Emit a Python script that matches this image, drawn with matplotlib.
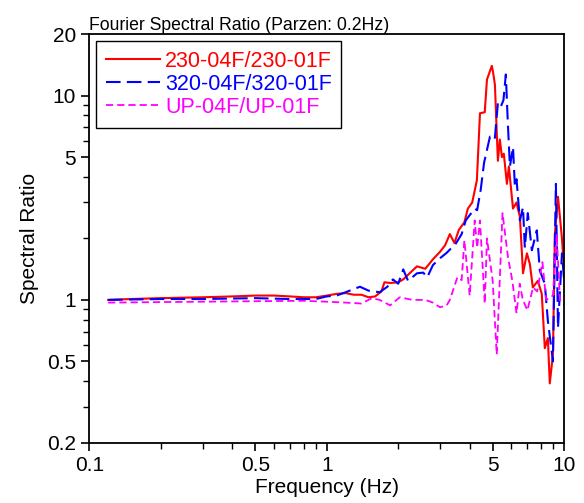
import matplotlib
matplotlib.use("Agg")
import matplotlib.pyplot as plt
from matplotlib.ticker import FixedLocator, FixedFormatter, LogLocator, NullFormatter

plt.rcParams['font.family'] = ['Liberation Sans', 'DejaVu Sans']

# spectral ratios
f_230 = [0.12, 0.15, 0.2, 0.3, 0.4, 0.5, 0.6, 0.7, 0.8, 0.9, 1.0, 1.1, 1.2, 1.3, 1.4, 1.5,
         1.6, 1.7, 1.75, 1.85, 2.0, 2.1, 2.25, 2.4, 2.6, 2.8, 3.0, 3.15, 3.3, 3.45, 3.6,
         3.8, 3.93, 4.1, 4.29, 4.42, 4.63, 4.73, 4.96, 5.02, 5.11, 5.21, 5.26, 5.36, 5.47,
         5.57, 5.74, 5.85, 6.09, 6.30, 6.51, 6.64, 6.71, 6.97, 7.17, 7.38, 7.75, 8.05, 8.29,
         8.54, 8.70, 8.97, 9.14, 9.42, 9.79, 10.0]
r_230 = [1.00, 1.01, 1.02, 1.03, 1.04, 1.05, 1.05, 1.04, 1.03, 1.03, 1.05, 1.07, 1.08, 1.06,
         1.06, 1.03, 1.04, 1.10, 1.22, 1.21, 1.22, 1.26, 1.36, 1.46, 1.42, 1.58, 1.72, 1.85,
         2.10, 1.90, 2.20, 2.40, 2.80, 3.0, 3.86, 8.2, 8.3, 12.0, 14.0, 13.0, 11.3, 6.3, 4.8,
         6.1, 5.0, 5.2, 3.7, 4.5, 2.8, 3.0, 2.55, 1.69, 1.35, 1.69, 1.5, 1.15, 1.24, 1.07,
         0.58, 0.65, 0.39, 0.54, 2.1, 3.2, 2.0, 1.39]

f_320 = [0.12, 0.2, 0.3, 0.5, 0.7, 0.9, 1.0, 1.1, 1.2, 1.3, 1.38, 1.5, 1.67, 1.8, 1.9, 2.0,
         2.1, 2.2, 2.4, 2.55, 2.65, 2.8, 3.0, 3.2, 3.5, 3.7, 3.85, 4.2, 4.3, 4.45, 4.6, 4.87,
         5.1, 5.26, 5.4, 5.55, 5.68, 5.79, 5.91, 6.09, 6.2, 6.3, 6.51, 6.71, 6.83, 7.03, 7.31,
         7.67, 7.9, 8.29, 8.54, 8.97, 9.23, 9.42, 9.79, 10.0]
r_320 = [1.00, 1.01, 1.01, 1.02, 1.01, 1.01, 1.04, 1.05, 1.09, 1.13, 1.16, 1.11, 1.09, 1.16,
         1.26, 1.20, 1.41, 1.24, 1.35, 1.36, 1.29, 1.48, 1.60, 1.70, 1.89, 2.10, 2.45, 2.80,
         2.75, 3.45, 4.7, 6.3, 6.1, 9.2, 8.8, 9.5, 12.7, 7.4, 4.5, 5.6, 3.6, 3.9, 2.45, 2.84,
         1.8, 2.66, 1.75, 2.19, 1.39, 1.2, 0.79, 0.5, 3.7, 0.73, 1.69, 1.24]

f_up = [0.12, 0.3, 0.8, 1.0, 1.2, 1.4, 1.55, 1.67, 1.85, 2.03, 2.3, 2.6, 2.8, 3.0, 3.2, 3.3,
        3.55, 3.7, 3.8, 4.0, 4.2, 4.3, 4.42, 4.63, 4.73, 5.0, 5.2, 5.5, 5.8, 6.05, 6.3, 6.5,
        6.7, 7.0, 7.4, 7.7, 8.1, 8.4, 8.97, 9.3, 9.6, 10.0]
r_up = [0.97, 0.98, 0.99, 0.98, 0.97, 0.96, 1.02, 1.00, 0.94, 1.03, 1.00, 1.00, 0.97, 0.92,
        0.94, 1.00, 1.29, 1.25, 1.96, 1.05, 2.45, 1.8, 2.45, 0.96, 2.0, 1.24, 0.54, 2.66,
        1.62, 1.24, 0.86, 1.2, 1.0, 0.89, 1.15, 1.1, 1.53, 1.0, 1.05, 2.1, 1.0, 0.95]

fig = plt.figure(figsize=(5.84, 5.03), dpi=100)
ax = fig.add_axes([0.153, 0.120, 0.813, 0.812])

ax.plot(f_230, r_230, color='red', lw=1.5, label='230-04F/230-01F')
ax.plot(f_320, r_320, color='blue', lw=1.5, dashes=(7, 3), label='320-04F/320-01F')
ax.plot(f_up, r_up, color='magenta', lw=1.3, dashes=(4, 2.2), label='UP-04F/UP-01F')

ax.set_xscale('log')
ax.set_yscale('log')
ax.set_xlim(0.1, 10)
ax.set_ylim(0.2, 20)

xt = [0.1, 0.5, 1, 5, 10]
yt = [0.2, 0.5, 1, 5, 10, 20]
ax.xaxis.set_major_locator(FixedLocator(xt))
ax.xaxis.set_major_formatter(FixedFormatter(['0.1', '0.5', '1', '5', '10']))
ax.yaxis.set_major_locator(FixedLocator(yt))
ax.yaxis.set_major_formatter(FixedFormatter(['0.2', '0.5', '1', '5', '10', '20']))
ax.xaxis.set_minor_locator(LogLocator(subs=(1, 2, 3, 4, 6, 7, 8, 9)))
ax.yaxis.set_minor_locator(LogLocator(subs=(1, 2, 3, 4, 6, 7, 8, 9)))
ax.xaxis.set_minor_formatter(NullFormatter())
ax.yaxis.set_minor_formatter(NullFormatter())
ax.tick_params(which='major', direction='out', length=6, width=1.2, labelsize=15)
ax.tick_params(which='minor', direction='out', length=4, width=1.0)
for s in ax.spines.values():
    s.set_linewidth(1.3)

ax.set_xlabel('Frequency (Hz)', fontsize=15, labelpad=2)
ax.set_ylabel('Spectral Ratio', fontsize=15, labelpad=6)
ax.set_title('Fourier Spectral Ratio (Parzen: 0.2Hz)', loc='left', fontsize=12.7, pad=3)

leg = ax.legend(loc='upper left', fontsize=15.5, handlelength=2.5, handletextpad=0.25,
                labelspacing=0.1, borderpad=0.45, borderaxespad=0, fancybox=False,
                edgecolor='black', framealpha=1, bbox_to_anchor=(0.0141, 0.9836))
leg.get_frame().set_linewidth(1.0)
for txt, line in zip(leg.get_texts(), leg.get_lines()):
    txt.set_color(line.get_color())

fig.savefig('out.png', dpi=100)
